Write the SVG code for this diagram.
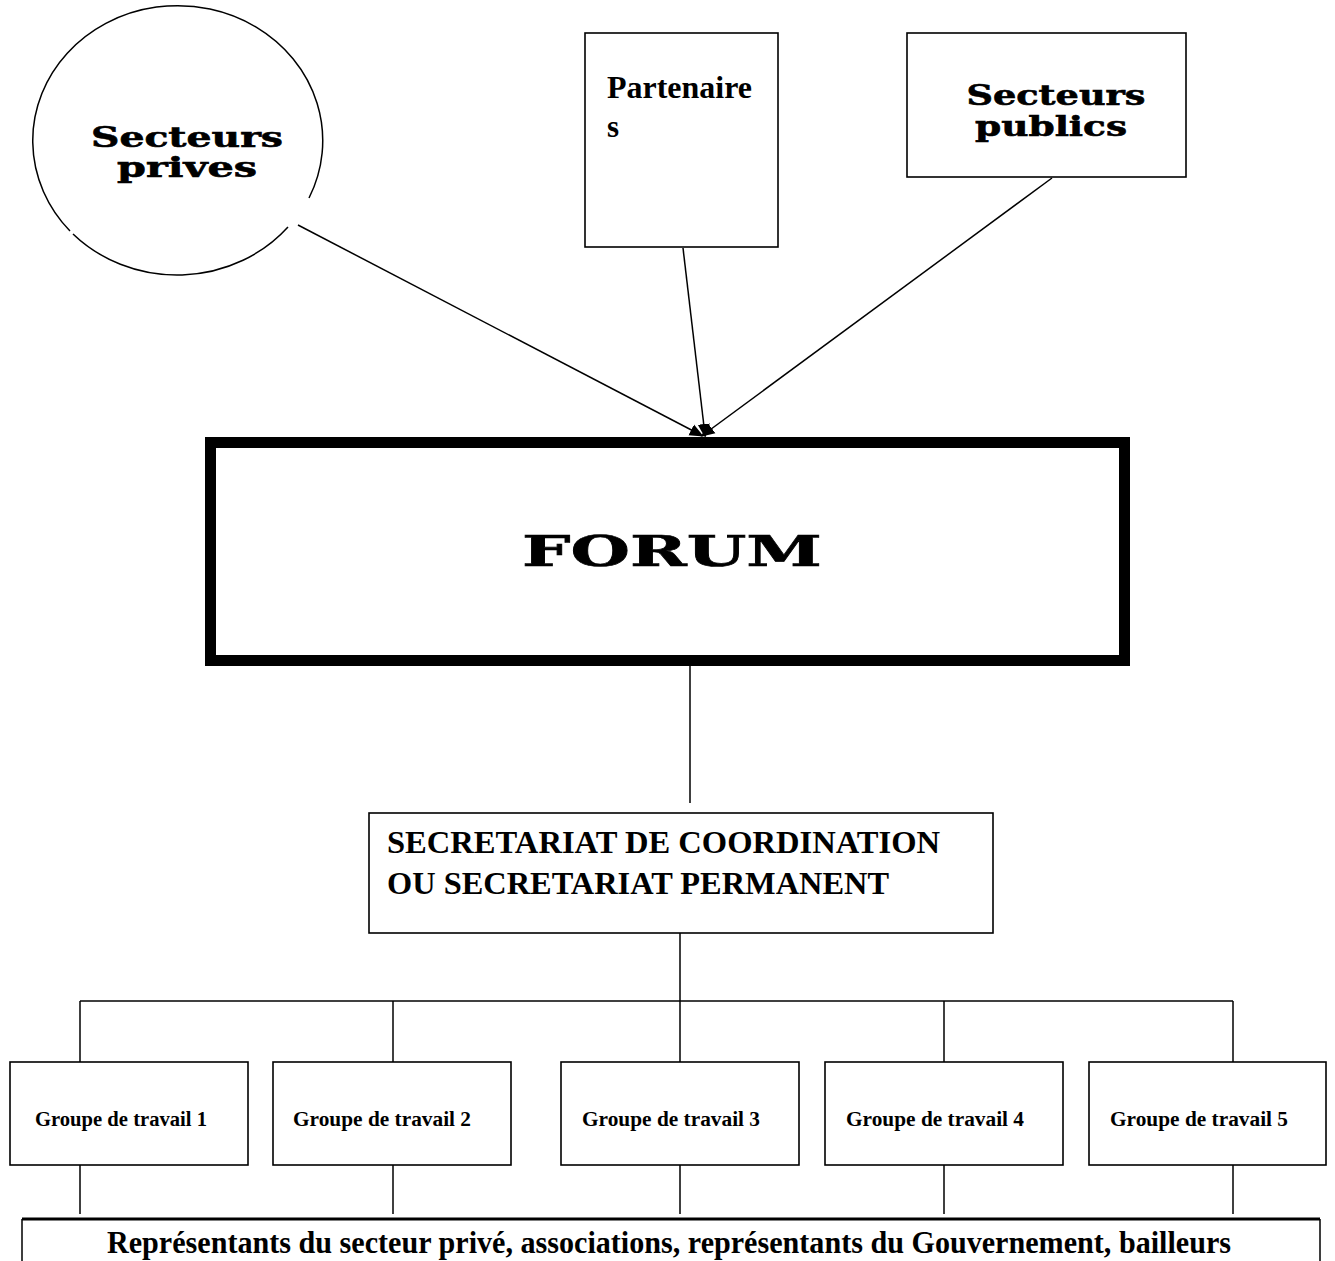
<svg xmlns="http://www.w3.org/2000/svg" width="1335" height="1261" viewBox="0 0 1335 1261">
<style>
.ln{stroke:#000;stroke-width:1.5;fill:none}
.bx{fill:#fff;stroke:#000;stroke-width:1.6}
.slab{font-family:"DejaVu Serif",serif;font-weight:bold;fill:#000;stroke:#000;stroke-width:0.6}
.tm{font-family:"Liberation Serif","Times New Roman",serif;font-weight:bold;fill:#000}
</style>
<defs>
<marker id="ah" markerWidth="14" markerHeight="14" refX="11" refY="7" orient="auto" markerUnits="userSpaceOnUse">
<path d="M0,1 L14,7 L0,13 Z" fill="#000"/>
</marker>
</defs>
<rect width="1335" height="1261" fill="#fff"/>
<g id="connectors">
<line class="ln" x1="298" y1="225" x2="701" y2="435" marker-end="url(#ah)"/>
<line class="ln" x1="683" y1="248" x2="705" y2="435" marker-end="url(#ah)"/>
<line class="ln" x1="1052" y1="178" x2="703" y2="435" marker-end="url(#ah)"/>
<line class="ln" x1="690" y1="666" x2="690" y2="803"/>
<line class="ln" x1="680" y1="925" x2="680" y2="1062"/>
<line class="ln" x1="80" y1="1001" x2="1233" y2="1001"/>
<line class="ln" x1="80" y1="1001" x2="80" y2="1062"/>
<line class="ln" x1="393" y1="1001" x2="393" y2="1062"/>
<line class="ln" x1="944" y1="1001" x2="944" y2="1062"/>
<line class="ln" x1="1233" y1="1001" x2="1233" y2="1062"/>
<line class="ln" x1="80" y1="1165" x2="80" y2="1214"/>
<line class="ln" x1="393" y1="1165" x2="393" y2="1214"/>
<line class="ln" x1="680" y1="1165" x2="680" y2="1214"/>
<line class="ln" x1="944" y1="1165" x2="944" y2="1214"/>
<line class="ln" x1="1233" y1="1165" x2="1233" y2="1214"/>
</g>
<g id="secteurs-prives">
<path class="ln" d="M309,198 A145,135 0 1 0 70,231"/>
<path class="ln" d="M73,234 A145,135 0 0 0 288,227"/>
<text class="slab" x="187" y="147" font-size="27" text-anchor="middle" textLength="192" lengthAdjust="spacingAndGlyphs">Secteurs</text>
<text class="slab" x="187" y="177" font-size="27" text-anchor="middle" textLength="140" lengthAdjust="spacingAndGlyphs">prives</text>
</g>
<g id="partenaires">
<rect class="bx" x="585" y="33" width="193" height="214"/>
<text class="tm" x="607" y="98" font-size="31" textLength="145" lengthAdjust="spacingAndGlyphs">Partenaire</text>
<text class="tm" x="607" y="137" font-size="31">s</text>
</g>
<g id="secteurs-publics">
<rect class="bx" x="907" y="33" width="279" height="144"/>
<text class="slab" x="1056" y="105" font-size="27" text-anchor="middle" textLength="179" lengthAdjust="spacingAndGlyphs">Secteurs</text>
<text class="slab" x="1051" y="136" font-size="27" text-anchor="middle" textLength="152" lengthAdjust="spacingAndGlyphs">publics</text>
</g>
<g id="forum">
<rect x="210.5" y="442.5" width="914" height="218" fill="#fff" stroke="#000" stroke-width="11"/>
<text class="slab" x="672" y="566" font-size="42" text-anchor="middle" textLength="300" lengthAdjust="spacingAndGlyphs">FORUM</text>
</g>
<g id="secretariat">
<rect class="bx" x="369" y="813" width="624" height="120"/>
<text class="tm" x="387" y="853" font-size="32" textLength="553" lengthAdjust="spacingAndGlyphs">SECRETARIAT DE COORDINATION</text>
<text class="tm" x="387" y="894" font-size="32" textLength="502" lengthAdjust="spacingAndGlyphs">OU SECRETARIAT PERMANENT</text>
</g>
<g id="groupe1">
<rect class="bx" x="10" y="1062" width="238" height="103"/>
<text class="tm" x="35" y="1126" font-size="20" textLength="172" lengthAdjust="spacingAndGlyphs">Groupe de travail 1</text>
</g>
<g id="groupe2">
<rect class="bx" x="273" y="1062" width="238" height="103"/>
<text class="tm" x="293" y="1126" font-size="20" textLength="178" lengthAdjust="spacingAndGlyphs">Groupe de travail 2</text>
</g>
<g id="groupe3">
<rect class="bx" x="561" y="1062" width="238" height="103"/>
<text class="tm" x="582" y="1126" font-size="20" textLength="178" lengthAdjust="spacingAndGlyphs">Groupe de travail 3</text>
</g>
<g id="groupe4">
<rect class="bx" x="825" y="1062" width="238" height="103"/>
<text class="tm" x="846" y="1126" font-size="20" textLength="178" lengthAdjust="spacingAndGlyphs">Groupe de travail 4</text>
</g>
<g id="groupe5">
<rect class="bx" x="1089" y="1062" width="237" height="103"/>
<text class="tm" x="1110" y="1126" font-size="20" textLength="178" lengthAdjust="spacingAndGlyphs">Groupe de travail 5</text>
</g>
<g id="representants">
<path d="M22,1219 H1320" stroke="#000" stroke-width="3" fill="none"/>
<path d="M22,1219 V1261 M1320,1219 V1261" class="ln"/>
<text class="tm" x="669" y="1253" font-size="32" text-anchor="middle" textLength="1124" lengthAdjust="spacingAndGlyphs">Représentants du secteur privé, associations, représentants du Gouvernement, bailleurs</text>
</g>
</svg>
